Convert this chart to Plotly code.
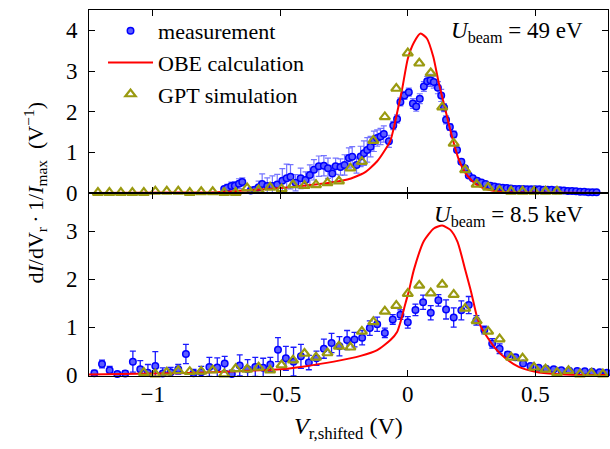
import plotly.graph_objects as go
from plotly.subplots import make_subplots

# ---------------- top panel: U_beam = 49 eV ----------------
meas49_x = [-0.720, -0.708, -0.692, -0.678, -0.662, -0.649, -0.616, -0.600, -0.585, -0.571,
            -0.551, -0.531, -0.512, -0.492, -0.475, -0.460, -0.440, -0.420, -0.401, -0.384,
            -0.368, -0.349, -0.329, -0.313, -0.296, -0.283, -0.264, -0.248, -0.231, -0.218,
            -0.201, -0.185, -0.172, -0.159, -0.146, -0.133, -0.120, -0.107, -0.094, -0.074,
            -0.057, -0.042, -0.029, -0.013, 0.004, 0.020, 0.033, 0.047, 0.063, 0.076,
            0.089, 0.102, 0.118, 0.131, 0.142, 0.150, 0.165, 0.180, 0.193, 0.210,
            0.224, 0.239, 0.255, 0.272, 0.289, 0.305, 0.324,
            0.340, 0.356, 0.372, 0.388, 0.404, 0.420, 0.436, 0.452, 0.468, 0.484,
            0.500, 0.516, 0.532, 0.548, 0.564, 0.580, 0.596, 0.612, 0.628, 0.644,
            0.660, 0.676, 0.692, 0.708, 0.724, 0.740]
meas49_y = [0.10, 0.13, 0.17, 0.18, 0.23, 0.27, 0.06, 0.08, 0.14, 0.22,
            0.17, 0.17, 0.21, 0.30, 0.36, 0.40, 0.25, 0.36, 0.32, 0.44,
            0.57, 0.66, 0.67, 0.61, 0.48, 0.66, 0.64, 0.69, 0.86, 0.89,
            0.69, 0.90, 0.98, 1.06, 1.14, 1.27, 1.35, 1.39, 1.45, 1.27,
            1.66, 1.82, 2.24, 2.40, 2.48, 2.20, 2.13, 2.32, 2.62, 2.75,
            2.77, 2.73, 2.59, 2.40, 2.10, 1.80, 1.62, 1.44, 1.06, 0.77,
            0.61, 0.43, 0.36, 0.30, 0.26, 0.22, 0.18,
            0.16, 0.14, 0.13, 0.12, 0.11, 0.10, 0.10, 0.10, 0.09, 0.09,
            0.09, 0.09, 0.08, 0.08, 0.08, 0.07, 0.07, 0.06, 0.05, 0.05,
            0.04, 0.03, 0.03, 0.02, 0.02, 0.02]
meas49_err = [0.06, 0.08, 0.10, 0.10, 0.12, 0.10, 0.05, 0.08, 0.15, 0.25,
              0.20, 0.25, 0.25, 0.30, 0.35, 0.30, 0.20, 0.25, 0.20, 0.25,
              0.25, 0.25, 0.25, 0.25, 0.20, 0.20, 0.20, 0.25, 0.25, 0.25,
              0.20, 0.25, 0.30, 0.30, 0.25, 0.25, 0.20, 0.20, 0.20, 0.15,
              0.10, 0.10, 0.10, 0.10, 0.10, 0.12, 0.12, 0.12, 0.12, 0.12,
              0.15, 0.15, 0.15, 0.15, 0.10, 0.10, 0.08, 0.08, 0.06, 0.06,
              0.05, 0.05, 0.04, 0.04, 0.03, 0.03, 0.03,
              0.02, 0.02, 0.02, 0.02, 0.02, 0.02, 0.02, 0.02, 0.02, 0.02,
              0.02, 0.02, 0.02, 0.02, 0.02, 0.02, 0.02, 0.02, 0.02, 0.02,
              0.02, 0.02, 0.02, 0.02, 0.02, 0.02]

obe49_x = [-1.25, -0.9, -0.75, -0.62, -0.5, -0.42, -0.3, -0.237, -0.17, -0.12,
           -0.09, -0.068, -0.055, -0.04, -0.022, 0.0, 0.024, 0.05, 0.075, 0.1,
           0.12, 0.148, 0.174, 0.2, 0.225, 0.252, 0.28, 0.33, 0.38, 0.45, 0.79]
obe49_y = [0.0, 0.01, 0.02, 0.07, 0.12, 0.17, 0.26, 0.33, 0.5, 0.78,
           1.05, 1.29, 1.6, 2.03, 2.56, 3.3, 3.7, 3.92, 3.8, 3.35,
           2.75, 2.03, 1.37, 0.82, 0.5, 0.3, 0.16, 0.06, 0.02, 0.01, 0.0]

gpt49_x = [-1.215, -1.170, -1.125, -1.080, -1.035, -0.990, -0.945, -0.900, -0.855, -0.810,
           -0.765, -0.720, -0.675, -0.630, -0.585, -0.540, -0.495, -0.450, -0.405, -0.360,
           -0.315, -0.270, -0.225, -0.180, -0.135, -0.090, -0.045, 0.000, 0.045, 0.090,
           0.135, 0.180, 0.225, 0.270, 0.315, 0.360, 0.405, 0.450, 0.495, 0.540, 0.585]
gpt49_y = [0.01, 0.01, 0.01, 0.01, 0.01, 0.04, 0.04, 0.04, 0.01, 0.03,
           0.03, 0.01, 0.01, 0.12, 0.07, 0.14, 0.10, 0.20, 0.18, 0.20,
           0.25, 0.29, 0.61, 0.77, 1.29, 1.87, 2.57, 3.44, 3.19, 2.95,
           2.11, 1.22, 0.57, 0.21, 0.14, 0.06, 0.04, 0.04, 0.04, 0.04, 0.04]

# ---------------- bottom panel: U_beam = 8.5 keV ----------------
meas85_x = [-1.229, -1.199, -1.169, -1.139, -1.108, -1.078, -1.049, -1.019, -0.990, -0.961,
            -0.930, -0.900, -0.870, -0.840, -0.810, -0.778, -0.747, -0.718, -0.690, -0.659,
            -0.628, -0.598, -0.567, -0.539, -0.509, -0.478, -0.448, -0.419, -0.388, -0.358,
            -0.329, -0.299, -0.268, -0.238, -0.209, -0.179, -0.149, -0.120, -0.090, -0.059,
            -0.029, 0.000, 0.030, 0.060, 0.090, 0.120, 0.150, 0.180, 0.210, 0.239,
            0.269, 0.300, 0.331, 0.360, 0.392, 0.422, 0.452, 0.481, 0.513, 0.542,
            0.572, 0.602, 0.633, 0.664, 0.694, 0.723, 0.752, 0.781]
meas85_y = [0.035, 0.23, 0.10, 0.02, 0.03, 0.28, 0.12, 0.05, 0.19, 0.03,
            0.06, 0.12, 0.44, 0.04, 0.06, 0.17, 0.16, 0.24, 0.02, 0.20,
            0.12, 0.17, 0.15, 0.22, 0.53, 0.35, 0.28, 0.39, 0.26, 0.35,
            0.55, 0.67, 0.60, 0.73, 0.74, 0.78, 0.98, 1.06, 0.88, 1.16,
            1.26, 1.10, 1.36, 1.52, 1.30, 1.56, 1.37, 1.20, 1.35, 1.46,
            1.14, 0.94, 0.66, 0.55, 0.43, 0.37, 0.24, 0.19, 0.15, 0.13,
            0.12, 0.10, 0.09, 0.085, 0.08, 0.07, 0.06, 0.05]
meas85_err = [0.06, 0.08, 0.08, 0.05, 0.06, 0.22, 0.18, 0.17, 0.30, 0.12,
              0.10, 0.10, 0.20, 0.08, 0.12, 0.20, 0.20, 0.15, 0.08, 0.22,
              0.20, 0.20, 0.20, 0.15, 0.25, 0.25, 0.30, 0.25, 0.15, 0.15,
              0.20, 0.20, 0.20, 0.20, 0.15, 0.15, 0.15, 0.15, 0.10, 0.10,
              0.10, 0.12, 0.12, 0.15, 0.15, 0.12, 0.20, 0.20, 0.20, 0.18,
              0.10, 0.08, 0.10, 0.10, 0.06, 0.05, 0.04, 0.03, 0.03, 0.02,
              0.02, 0.02, 0.02, 0.02, 0.02, 0.02, 0.02, 0.02]

obe85_x = [-1.25, -1.0, -0.82, -0.62, -0.5, -0.42, -0.29, -0.185, -0.12, -0.068,
           -0.042, -0.029, -0.009, 0.004, 0.024, 0.063, 0.102, 0.135, 0.167, 0.195,
           0.226, 0.249, 0.272, 0.29, 0.304, 0.344, 0.383, 0.435, 0.5, 0.578, 0.68, 0.79]
obe85_y = [0.01, 0.03, 0.05, 0.09, 0.12, 0.17, 0.28, 0.40, 0.52, 0.73,
           0.90, 1.10, 1.50, 1.75, 2.20, 2.80, 3.06, 3.12, 3.03, 2.78,
           2.18, 1.72, 1.20, 0.97, 0.85, 0.55, 0.35, 0.17, 0.07, 0.02, 0.0, 0.0]

gpt85_x = [-1.035, -0.990, -0.945, -0.900, -0.855, -0.810, -0.765, -0.720, -0.675, -0.630,
           -0.585, -0.540, -0.495, -0.450, -0.405, -0.360, -0.315, -0.270, -0.225, -0.180,
           -0.135, -0.090, -0.045, 0.000, 0.045, 0.090, 0.135, 0.180, 0.225, 0.270,
           0.315, 0.360, 0.405, 0.450, 0.495, 0.540, 0.585, 0.630, 0.675, 0.720, 0.765]
gpt85_y = [0.05, 0.02, 0.055, 0.09, 0.07, 0.075, 0.10, 0.02, 0.13, 0.12,
           0.16, 0.10, 0.21, 0.31, 0.45, 0.37, 0.46, 0.60, 0.58, 0.91,
           1.11, 1.33, 1.45, 1.70, 1.87, 1.71, 1.89, 1.68, 1.39, 1.13,
           0.91, 0.75, 0.37, 0.35, 0.16, 0.12, 0.05, 0.09, 0.02, 0.035, 0.02]

x_tickvals = [-1, -0.5, 0, 0.5]
x_ticktext = ["\u22121", "\u22120.5", "0", "0.5"]
y_top_ticks = [0, 1, 2, 3, 4]
y_bot_ticks = [0, 1, 2, 3]

FONT = "Liberation Serif"
BLUE = "#0000ff"
BLUE_FILL = "#5c5cff"
OLIVE = "#9a9a10"
RED = "#ff0000"

fig = make_subplots(rows=2, cols=1, shared_xaxes=True, vertical_spacing=0)

meas_marker = dict(symbol="circle", size=6.5, color=BLUE_FILL, line=dict(color=BLUE, width=1.5))
gpt_marker = dict(symbol="triangle-up-open", size=9, color=OLIVE, line=dict(color=OLIVE, width=2.2))

# top
fig.add_trace(go.Scatter(x=meas49_x, y=meas49_y, mode="markers", name="measurement",
                         marker=meas_marker, cliponaxis=False,
                         error_y=dict(type="data", array=meas49_err, color="rgba(70,70,255,0.75)",
                                      thickness=1.2, width=3)), row=1, col=1)
fig.add_trace(go.Scatter(x=obe49_x, y=obe49_y, mode="lines", name="OBE calculation",
                         line=dict(color=RED, width=2, shape="spline", smoothing=0.6)), row=1, col=1)
fig.add_trace(go.Scatter(x=gpt49_x, y=gpt49_y, mode="markers", name="GPT simulation",
                         marker=gpt_marker, cliponaxis=False), row=1, col=1)
# bottom
fig.add_trace(go.Scatter(x=meas85_x, y=meas85_y, mode="markers", name="measurement",
                         marker=meas_marker, cliponaxis=False, showlegend=False,
                         error_y=dict(type="data", array=meas85_err, color="#1a1aff",
                                      thickness=1.3, width=3)), row=2, col=1)
fig.add_trace(go.Scatter(x=obe85_x, y=obe85_y, mode="lines", name="OBE calculation", showlegend=False,
                         line=dict(color=RED, width=2, shape="spline", smoothing=0.6)), row=2, col=1)
fig.add_trace(go.Scatter(x=gpt85_x, y=gpt85_y, mode="markers", name="GPT simulation", showlegend=False,
                         marker=gpt_marker, cliponaxis=False), row=2, col=1)

axis_common = dict(showline=True, linecolor="black", linewidth=1, mirror="ticks",
                   ticks="inside", ticklen=6, tickwidth=1, tickcolor="black",
                   showgrid=False, zeroline=False, automargin=False,
                   tickfont=dict(family=FONT, size=23, color="black"))

fig.update_xaxes(**axis_common, range=[-1.25, 0.785], tickvals=x_tickvals, ticktext=x_ticktext)
fig.update_xaxes(showticklabels=False, row=1, col=1)
fig.update_xaxes(ticklabelstandoff=-3, row=2, col=1)
fig.update_yaxes(**axis_common)
fig.update_yaxes(range=[0, 4.5], tickvals=y_top_ticks, ticklabelstandoff=6, row=1, col=1)
fig.update_yaxes(range=[-0.02, 3.8], tickvals=y_bot_ticks, ticklabelstandoff=6, row=2, col=1)

fig.update_layout(
    width=610, height=449,
    margin=dict(l=89, r=2, t=10, b=73, autoexpand=False),
    paper_bgcolor="white", plot_bgcolor="white",
    font=dict(family=FONT, size=22, color="black"),
    showlegend=True,
    legend=dict(x=0.027, y=1.0, xanchor="left", yanchor="top", bgcolor="rgba(0,0,0,0)",
                font=dict(family=FONT, size=22), itemwidth=45, tracegroupgap=0),
    annotations=[
        dict(text="<i>U</i><sub>beam</sub> = 49 eV", xref="paper", yref="paper",
             x=0.955, y=0.94, xanchor="right", yanchor="middle", showarrow=False,
             font=dict(family=FONT, size=23)),
        dict(text="<i>U</i><sub>beam</sub> = 8.5 keV", xref="paper", yref="paper",
             x=0.955, y=0.437, xanchor="right", yanchor="middle", showarrow=False,
             font=dict(family=FONT, size=23)),
        dict(text="d<i>I</i>/dV<sub>r</sub>\u2009\u00b7\u20091/<i>I</i><sub>max</sub>  (V<sup>\u22121</sup>)",
             xref="paper", yref="paper", x=-0.105, y=0.5, xanchor="center", yanchor="middle",
             textangle=-90, showarrow=False, font=dict(family=FONT, size=22)),
        dict(text="<i>V</i><sub>r,shifted</sub> (V)", xref="paper", yref="paper",
             x=0.5, y=-0.142, xanchor="center", yanchor="middle", showarrow=False,
             font=dict(family=FONT, size=24)),
    ],
)

fig.write_html("out.html", config={"displayModeBar": False},
               post_script=["document.body.style.margin='0px';"])
